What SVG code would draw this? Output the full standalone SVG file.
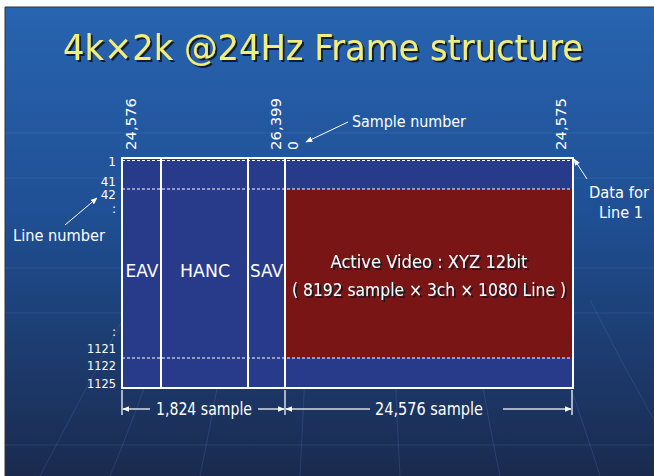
<svg xmlns="http://www.w3.org/2000/svg" width="654" height="476" viewBox="0 0 654 476">
<defs>
<linearGradient id="bg" x1="0" y1="0" x2="0" y2="1">
<stop offset="0" stop-color="#2864b0"/>
<stop offset="0.45" stop-color="#1f4f93"/>
<stop offset="1" stop-color="#1a2a4e"/>
</linearGradient>
<marker id="ah" viewBox="0 0 10 10" refX="9" refY="5" markerWidth="7" markerHeight="7" orient="auto-start-reverse" markerUnits="userSpaceOnUse">
<path d="M0,1 L10,5 L0,9 Z" fill="#ffffff"/>
</marker>
<filter id="sh" x="-5%" y="-20%" width="110%" height="150%">
<feDropShadow dx="2" dy="2" stdDeviation="0.6" flood-color="#101820" flood-opacity="0.9"/>
</filter>
</defs>
<style>
.t{font-family:"DejaVu Sans","Liberation Sans",sans-serif;fill:#ffffff}
.ln{font-size:12px;text-anchor:end}
.rot{font-size:14px}
.lab{font-size:17px;text-anchor:middle}
.wl{stroke:#ffffff;stroke-width:2;fill:none}
.dash{stroke:#ffffff;stroke-width:1;stroke-dasharray:3,2;fill:none}
.grid{stroke:#5a8ad0;stroke-width:1;fill:none;opacity:0.22}
.dim{stroke:#d8dde8;stroke-width:1.5;fill:none}
</style>
<rect x="0" y="0" width="654" height="476" fill="#ffffff"/>
<rect x="5" y="7" width="649" height="469" fill="url(#bg)"/>
<line x1="5" y1="7" x2="5" y2="476" stroke="#333" stroke-width="1"/>
<line x1="5" y1="7" x2="654" y2="7" stroke="#333" stroke-width="1"/>
<g id="grid">
<path class="grid" d="M5,133 H654 M5,178 H654 M5,268 H654 M5,313 H654 M5,445 H654"/>
<path class="grid" d="M40,476 Q90,380 160,250 M110,476 Q150,380 190,250 M200,476 Q220,380 240,250 M300,476 Q305,380 310,250 M400,476 Q395,380 390,250 M500,476 Q480,380 460,250 M600,476 Q570,380 520,250 M654,420 Q620,360 590,300"/>
</g>
<text x="323" y="60" text-anchor="middle" font-family="'DejaVu Sans','Liberation Sans',sans-serif" font-size="35" fill="#f3ee7c" filter="url(#sh)" textLength="520" lengthAdjust="spacingAndGlyphs">4k×2k @24Hz Frame structure</text>
<g id="frame">
<rect x="122" y="158" width="451" height="230" fill="#283a8a"/>
<rect x="285" y="189" width="288" height="169" fill="#7a1516"/>
<line class="dash" x1="122" y1="160.5" x2="573" y2="160.5" stroke="#a0e0d0"/>
<line class="dash" x1="122" y1="189" x2="573" y2="189"/>
<line class="dash" x1="122" y1="358" x2="573" y2="358"/>
<line class="wl" x1="161" y1="158" x2="161" y2="388"/>
<line class="wl" x1="248" y1="158" x2="248" y2="388"/>
<line class="wl" x1="285" y1="158" x2="285" y2="388"/>
<rect class="wl" x="122" y="158" width="451" height="230"/>
</g>
<g id="eav"><text class="t lab" x="142" y="277" textLength="33" lengthAdjust="spacingAndGlyphs">EAV</text></g>
<g id="hanc"><text class="t lab" x="205" y="277" textLength="50" lengthAdjust="spacingAndGlyphs">HANC</text></g>
<g id="sav"><text class="t lab" x="266.5" y="277" textLength="33" lengthAdjust="spacingAndGlyphs">SAV</text></g>
<g id="active">
<text class="t lab" x="429" y="268" filter="url(#sh)" textLength="197" lengthAdjust="spacingAndGlyphs">Active Video : XYZ 12bit</text>
<text class="t lab" x="429" y="296" filter="url(#sh)" textLength="274" lengthAdjust="spacingAndGlyphs">( 8192 sample × 3ch × 1080 Line )</text>
</g>
<g id="sample-numbers">
<text class="t rot" transform="translate(136,150) rotate(-90)" textLength="52" lengthAdjust="spacingAndGlyphs">24,576</text>
<text class="t rot" transform="translate(281,150) rotate(-90)" textLength="52" lengthAdjust="spacingAndGlyphs">26,399</text>
<text class="t rot" transform="translate(298,150) rotate(-90)">0</text>
<text class="t rot" transform="translate(566,150) rotate(-90)" textLength="52" lengthAdjust="spacingAndGlyphs">24,575</text>
<text class="t" x="352" y="127" font-size="16" textLength="114" lengthAdjust="spacingAndGlyphs">Sample number</text>
</g>
<g id="line-numbers">
<text class="t ln" x="116" y="166">1</text>
<text class="t ln" x="116" y="186">41</text>
<text class="t ln" x="116" y="199">42</text>
<text class="t ln" x="116" y="213">:</text>
<text class="t ln" x="116" y="336">:</text>
<text class="t ln" x="116" y="353" textLength="29" lengthAdjust="spacingAndGlyphs">1121</text>
<text class="t ln" x="116" y="370" textLength="29" lengthAdjust="spacingAndGlyphs">1122</text>
<text class="t ln" x="116" y="388" textLength="29" lengthAdjust="spacingAndGlyphs">1125</text>
<text class="t" x="13" y="241" font-size="16" textLength="92" lengthAdjust="spacingAndGlyphs">Line number</text>
</g>
<g id="data-for-line1">
<text class="t" x="619" y="198" font-size="16" text-anchor="middle" textLength="60" lengthAdjust="spacingAndGlyphs">Data for</text>
<text class="t" x="621" y="218" font-size="16" text-anchor="middle" textLength="44" lengthAdjust="spacingAndGlyphs">Line 1</text>
</g>
<g id="connectors">
<line x1="348" y1="122" x2="306" y2="142" stroke="#fff" stroke-width="1" marker-end="url(#ah)"/>
<line x1="587" y1="179" x2="574" y2="159" stroke="#fff" stroke-width="1" marker-end="url(#ah)"/>
<line x1="65" y1="225" x2="97" y2="198" stroke="#fff" stroke-width="1" marker-end="url(#ah)"/>
<line class="dim" x1="122" y1="390" x2="122" y2="415"/>
<line class="dim" x1="285" y1="390" x2="285" y2="415"/>
<line class="dim" x1="572" y1="390" x2="572" y2="415"/>
<line class="dim" x1="150" y1="409" x2="123" y2="409" marker-end="url(#ah)"/>
<line class="dim" x1="258" y1="409" x2="284" y2="409" marker-end="url(#ah)"/>
<line class="dim" x1="370" y1="409" x2="286" y2="409" marker-end="url(#ah)"/>
<line class="dim" x1="503" y1="409" x2="571" y2="409" marker-end="url(#ah)"/>
</g>
<g id="dim-labels">
<text class="t lab" x="204" y="415" textLength="96" lengthAdjust="spacingAndGlyphs">1,824 sample</text>
<text class="t lab" x="429" y="415" textLength="108" lengthAdjust="spacingAndGlyphs">24,576 sample</text>
</g>
</svg>
